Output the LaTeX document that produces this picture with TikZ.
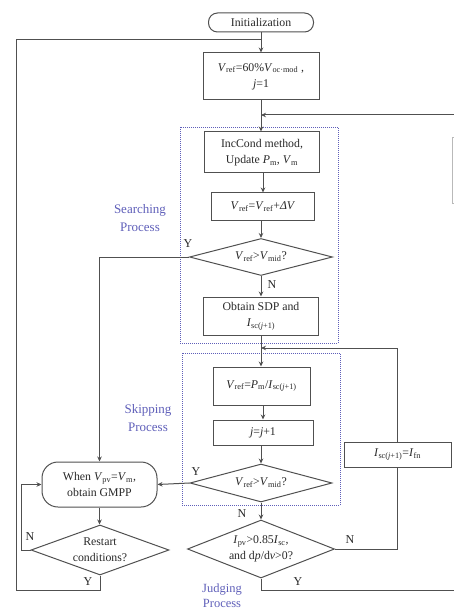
\documentclass[tikz,border=0pt]{standalone}
\usepackage{fontspec}
\setmainfont{Liberation Serif}
\usetikzlibrary{shapes.geometric,arrows.meta}
\newcommand{\vv}[2]{\textit{#1}\textsubscript{#2}}
\definecolor{linegray}{RGB}{80,80,80}
\definecolor{txt}{RGB}{40,40,40}
\definecolor{grpblue}{RGB}{95,95,185}
\begin{document}
\begin{tikzpicture}[x=1pt,y=-1pt,
  ln/.style={draw=linegray, line width=1pt},
  arr/.style={ln,-{Stealth[length=5pt,width=4.5pt]}},
  box/.style={draw=linegray, line width=1pt, rectangle, inner sep=0pt, align=center, font=\fontsize{11.8}{16}\selectfont, text=txt},
  term/.style={box, rounded corners=9pt},
  dia/.style={draw=linegray, line width=1pt, diamond, inner sep=0pt},
  dtext/.style={align=center, font=\fontsize{11.8}{16}\selectfont, text=txt, inner sep=0pt},
  grp/.style={draw=grpblue, dash pattern=on 1pt off 1pt, line width=0.7pt},
  glabel/.style={text=grpblue, align=center, font=\fontsize{13}{18}\selectfont, inner sep=0pt},
  yn/.style={font=\fontsize{12}{12}\selectfont, text=txt, inner sep=0pt}
]
\useasboundingbox (0,0) rectangle (454,612);

% group boxes
\draw[grp] (180,127) rectangle (338,343);
\draw[grp] (182,353) rectangle (340,505);
\node[glabel] (gs) at (140,218) {Searching\\Process};
\node[glabel] (gk) at (148,418) {Skipping\\Process};
\node[glabel, font=\fontsize{12.5}{15}\selectfont] (gj) at (222,596) {Judging\\Process};

% partial box at right edge
\draw[draw=gray!55, line width=0.8pt] (452.5,137) rectangle (480,203);

% nodes
\node[term, minimum width=105pt, minimum height=19pt] (init) at (261,22.5) {Initialization};
\node[box, minimum width=116pt, minimum height=47pt] (b1) at (261,76.5) {\vv{V}{ref}=60\%\vv{V}{oc·mod} ,\\\textit{j}=1};
\node[box, minimum width=115pt, minimum height=41pt] (inc) at (262,152.5) {IncCond method,\\Update \vv{P}{m}, \vv{V}{m}};
\node[box, minimum width=103pt, minimum height=27pt] (dv) at (263,206.5) {\vv{V}{ref}=\vv{V}{ref}+\textit{ΔV}};
\node[dia, minimum width=143pt, minimum height=37pt, aspect=3.8,
      label={[dtext]center:\vv{V}{ref}>\vv{V}{mid}?}] (d1) at (261,257) {};
\node[box, minimum width=115pt, minimum height=38pt] (sdp) at (261,316) {Obtain SDP and\\\vv{I}{sc(\textit{j}+1)}};
\node[box, minimum width=97pt, minimum height=38pt] (vp) at (261.5,386) {\vv{V}{ref}=\vv{P}{m}/\vv{I}{sc(\textit{j}+1)}};
\node[box, minimum width=100pt, minimum height=25pt] (jj) at (263,432.5) {\textit{j}=\textit{j}+1};
\node[dia, minimum width=142pt, minimum height=38pt, aspect=3.7,
      label={[dtext]center:\vv{V}{ref}>\vv{V}{mid}?}] (d2) at (261,483) {};
\node[dia, minimum width=147pt, minimum height=58pt, aspect=2.5,
      label={[dtext]center:\vv{I}{pv}>0.85\vv{I}{sc},\\and d\textit{p}/d\textit{v}>0?}] (d3) at (261,549) {};
\node[box, minimum width=107pt, minimum height=25pt] (fn) at (397.5,454.5) {\vv{I}{sc(\textit{j}+1)}=\vv{I}{fn}};
\node[term, rounded corners=16pt, minimum width=115pt, minimum height=45pt] (when) at (99.5,484.5) {When \vv{V}{pv}=\vv{V}{m},\\obtain GMPP};
\node[dia, minimum width=138pt, minimum height=50pt, aspect=2.8,
      label={[dtext]center:Restart\\conditions?}] (rs) at (100,550) {};

% junction coordinates
\coordinate (jl) at (261,40);
\coordinate (jr1) at (261,115);
\coordinate (jr2) at (261,348);
\coordinate (lb) at (16,590);
\coordinate (rb) at (480,590);

% connectors
\draw[arr] (init.south) -- (b1.north);
\draw[arr] (b1.south) -- (b1.south |- inc.north);
\draw[arr] (inc.south -| dv.north) -- (dv.north);
\draw[arr] (dv.south) -- (dv.south -| d1.north) -- (d1.north);
\draw[arr] (d1.south) -- (sdp.north);
\draw[arr] (sdp.south) -- (sdp.south |- vp.north);
\draw[arr] (vp.south -| jj.north) -- (jj.north);
\draw[arr] (jj.south -| d2.north) -- (d2.north);
\draw[arr] (d2.south) -- (d3.north);
\draw[arr] (d1.west) -| (when.north);
\draw[arr] (d2.west) -- (when.east);
\draw[arr] (when.south) -- (when.south |- rs.north);
\draw[arr] (rs.west) -- ++(-9,0) |- (when.west);
\draw[ln] (rs.south) |- (lb) |- (jl);
\draw[ln] (d3.east) -| (fn.south);
\draw[arr] (fn.north) |- (jr2);
\draw[arr] (d3.south) |- (rb) |- (jr1);

% Y / N labels
\node[yn] (y1) at (188,244) {Y};
\node[yn] (n1) at (272,285) {N};
\node[yn] (y2) at (196,472) {Y};
\node[yn] (n2) at (242,514) {N};
\node[yn] (n3) at (350,540) {N};
\node[yn] (y3) at (298,582) {Y};
\node[yn] (n4) at (30,537) {N};
\node[yn] (y4) at (88,582) {Y};
\end{tikzpicture}
\end{document}
